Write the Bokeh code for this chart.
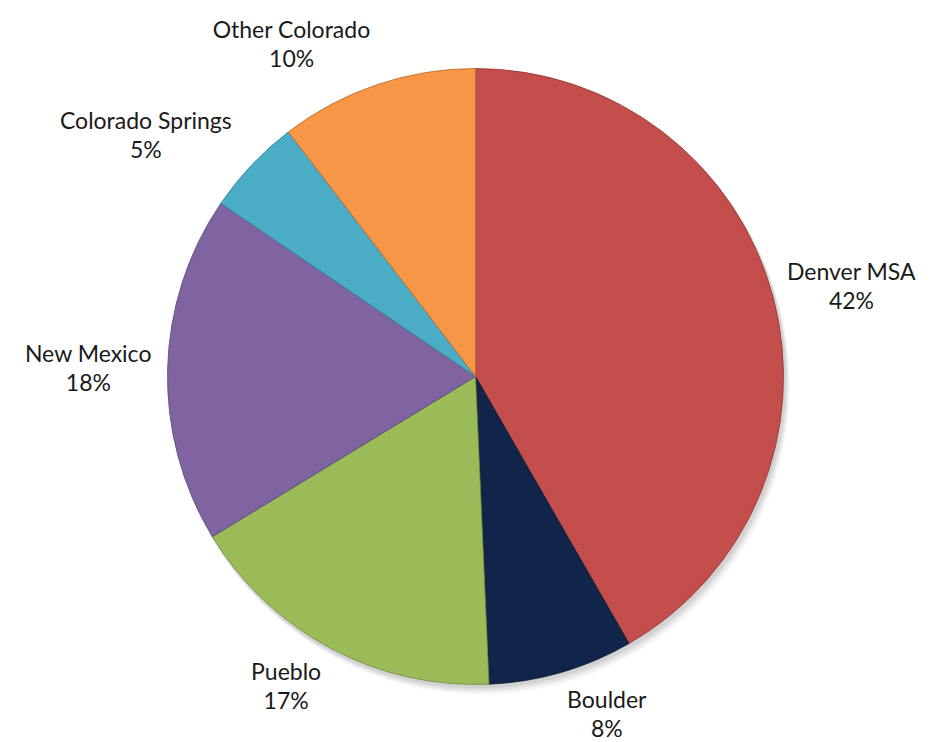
import math
from bokeh.plotting import figure
from bokeh.models import ColumnDataSource
from bokeh.core.properties import value
from bokeh.embed import file_html
from bokeh.resources import INLINE

# ---- data ----
regions = ["Denver MSA", "Boulder", "Pueblo", "New Mexico", "Colorado Springs", "Other Colorado"]
shares = [41.7, 7.6, 17.0, 18.2, 5.1, 10.4]
colors = ["#C34E4B", "#11244A", "#9BBB59", "#8064A2", "#4BACC6", "#F79646"]
edges = ["#8E3532", "#0A1630", "#6E8A3A", "#57437A", "#2F7F96", "#B86A2C"]

W, H = 937, 742
CX, CY, R = 475, 742 - 376, 308
FS = 23

total = sum(shares)
starts, ends, labels_name, labels_pct, lx, ly = [], [], [], [], [], []
cum = 0.0
for name, s in zip(regions, shares):
    a0 = cum / total
    cum += s
    a1 = cum / total
    starts.append(math.pi / 2 - 2 * math.pi * a0)
    ends.append(math.pi / 2 - 2 * math.pi * a1)
    mid = 2 * math.pi * (a0 + a1) / 2  # clockwise from top
    sx, cy_ = math.sin(mid), math.cos(mid)
    hw = 0.25 * 24 * len(name) * 0.92
    hh = 19
    gap = 24
    px = CX + (R + gap) * sx + hw * (1 if sx > 0 else -1)
    py = CY + (R + gap) * cy_ + hh * cy_
    lx.append(px)
    ly.append(py)
    labels_name.append(name)
    labels_pct.append(f"{round(100 * s / total)}%")

src = ColumnDataSource(dict(start=starts, end=ends, color=colors, edge=edges))

p = figure(width=W, height=H, x_range=(0, W), y_range=(0, H),
           output_backend="svg", toolbar_location=None, min_border=0)
p.axis.visible = False
p.grid.visible = False
p.outline_line_color = None
p.background_fill_color = "white"

# soft shadow
for off, a in [(9, 0.03), (7, 0.04), (5, 0.05), (3, 0.06)]:
    p.circle(x=[CX + off * 0.6], y=[CY - off], radius=R + 1, fill_color="#000000",
             fill_alpha=a, line_color=None)

p.wedge(x=CX, y=CY, radius=R, start_angle="start", end_angle="end", direction="clock",
        fill_color="color", line_color="edge", line_width=1, line_alpha=0.8, source=src)

lsrc = ColumnDataSource(dict(x=lx, y1=[v + 15 for v in ly], y2=[v - 14 for v in ly],
                             name=labels_name, pct=labels_pct))
p.text(x="x", y="y1", text="name", source=lsrc, text_align="center", text_baseline="middle",
       text_font=value("Lato"), text_font_size=f"{FS}px", text_color="#1a1a1a")
p.text(x="x", y="y2", text="pct", source=lsrc, text_align="center", text_baseline="middle",
       text_font=value("Lato"), text_font_size=f"{FS}px", text_color="#1a1a1a")

open("out.html", "w").write(file_html(p, INLINE))
